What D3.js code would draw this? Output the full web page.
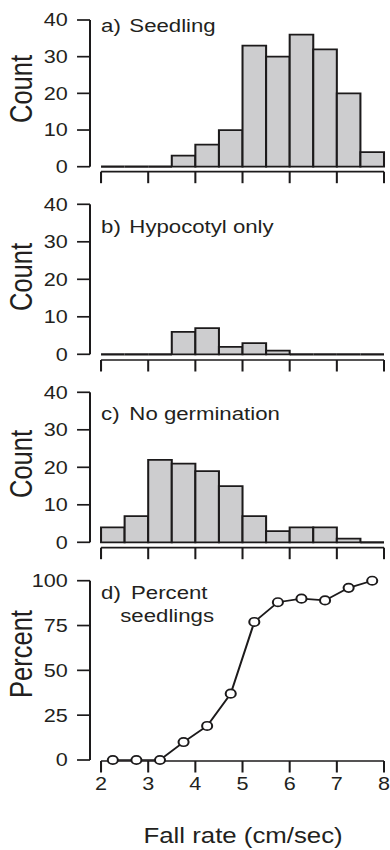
<!DOCTYPE html>
<html>
<head>
<meta charset="utf-8">
<script src="https://cdn.jsdelivr.net/npm/d3@7"></script>
<style>
    html, body { margin: 0; padding: 0; background: #fff; }
    svg { display: block; }
    text { font-family: "Liberation Sans", Arial, Helvetica, sans-serif; fill: #231f20; }
</style>
</head>
<body>
<div id="chart"></div>
<script>
// ——— Data ———
const binEdges = [2, 2.5, 3, 3.5, 4, 4.5, 5, 5.5, 6, 6.5, 7, 7.5, 8];
const binMids = [2.25, 2.75, 3.25, 3.75, 4.25, 4.75, 5.25, 5.75, 6.25, 6.75, 7.25, 7.75];
const seedling = [0, 0, 0, 3, 6, 10, 33, 30, 36, 32, 20, 4];
const hypocotyl = [0, 0, 0, 6, 7, 2, 3, 1, 0, 0, 0, 0];
const noGermination = [4, 7, 22, 21, 19, 15, 7, 3, 4, 4, 1, 0];
const percentSeedlings = [0, 0, 0, 10, 19, 37, 77, 88, 90, 89, 96, 100];
const xTicks = [2, 3, 4, 5, 6, 7, 8];
const countTicks = [0, 10, 20, 30, 40];
const percentTicks = [0, 25, 50, 75, 100];

(() => {
    // the figure is drawn in a narrower space and stretched to 390 wide
    const VW = 325, W = 390, H = 850;
    const axisX = 75;
    const INK = '#1c1a1b';
    const SW = 1.7;

    const svg = d3.select('#chart').append('svg')
        .attr('width', W).attr('height', H)
        .attr('viewBox', `0 0 ${VW} ${H}`)
        .attr('preserveAspectRatio', 'none');

    const x = d3.scaleLinear().domain([2, 8]).range([84.2, 320]);

    const panels = [
        { data: seedling, y0: 166.7, y1: 20, xAxisY: 171.7, label: ['a)', 'Seedling'], lab: 32.3, title: 'Count', titleY: 89 },
        { data: hypocotyl, y0: 354.3, y1: 204.3, xAxisY: 360, label: ['b)', 'Hypocotyl only'], lab: 233.3, title: 'Count', titleY: 277 },
        { data: noGermination, y0: 542.3, y1: 392.3, xAxisY: 547.7, label: ['c)', 'No germination'], lab: 420, title: 'Count', titleY: 464 }
    ];

    function yAxis(g, y, ticks) {
        g.append('line')
            .attr('x1', axisX).attr('x2', axisX)
            .attr('y1', y(ticks[0])).attr('y2', y(ticks[ticks.length - 1]))
            .attr('stroke', INK).attr('stroke-width', SW);
        ticks.forEach(t => {
            g.append('line')
                .attr('x1', axisX - 10.8).attr('x2', axisX)
                .attr('y1', y(t)).attr('y2', y(t))
                .attr('stroke', INK).attr('stroke-width', SW);
            g.append('text')
                .attr('x', 56.5).attr('y', y(t))
                .attr('dy', '0.36em')
                .attr('text-anchor', 'end')
                .attr('font-size', 18)
                .text(t);
        });
    }

    function xAxis(g, yPos, withLabels) {
        g.append('line')
            .attr('x1', x(2)).attr('x2', x(8))
            .attr('y1', yPos).attr('y2', yPos)
            .attr('stroke', INK).attr('stroke-width', SW);
        xTicks.forEach(t => {
            g.append('line')
                .attr('x1', x(t)).attr('x2', x(t))
                .attr('y1', yPos).attr('y2', yPos + 11.5)
                .attr('stroke', INK).attr('stroke-width', SW);
            if (withLabels) {
                g.append('text')
                    .attr('x', x(t)).attr('y', 790)
                    .attr('text-anchor', 'middle')
                    .attr('font-size', 18)
                    .text(t);
            }
        });
    }

    function yTitle(g, text, cy) {
        g.append('text')
            .attr('transform', `translate(26.6,${cy}) rotate(-90)`)
            .attr('text-anchor', 'middle')
            .attr('font-size', 25.5)
            .text(text);
    }

    // ——— Histogram panels ———
    panels.forEach(p => {
        const g = svg.append('g');
        const y = d3.scaleLinear().domain([0, 40]).range([p.y0, p.y1]);

        g.selectAll('path.bar')
            .data(p.data)
            .join('path')
            .attr('class', 'bar')
            .attr('d', (d, i) => {
                const a = x(binEdges[i]), b = x(binEdges[i + 1]);
                return `M${a},${y(0)}V${y(d)}H${b}V${y(0)}Z`;
            })
            .attr('fill', d => d > 0 ? '#cdcdcf' : 'none')
            .attr('stroke', INK)
            .attr('stroke-width', d => d > 0 ? SW : 2.2);

        yAxis(g, y, countTicks);
        xAxis(g, p.xAxisY, false);
        yTitle(g, p.title, p.titleY);

        g.append('text').attr('x', 84.2).attr('y', p.lab).attr('font-size', 18.5).text(p.label[0]);
        g.append('text').attr('x', 107.8).attr('y', p.lab).attr('font-size', 18.5).text(p.label[1]);
    });

    // ——— Percent seedlings panel ———
    const gd = svg.append('g');
    const yp = d3.scaleLinear().domain([0, 100]).range([760, 580.7]);

    yAxis(gd, yp, percentTicks);
    xAxis(gd, 761, true);
    yTitle(gd, 'Percent', 654);

    const line = d3.line()
        .x((d, i) => x(binMids[i]))
        .y(d => yp(d));

    gd.append('path')
        .datum(percentSeedlings)
        .attr('d', line)
        .attr('fill', 'none')
        .attr('stroke', INK)
        .attr('stroke-width', SW);

    gd.selectAll('circle')
        .data(percentSeedlings)
        .join('circle')
        .attr('cx', (d, i) => x(binMids[i]))
        .attr('cy', d => yp(d))
        .attr('r', 4.2)
        .attr('fill', '#fff')
        .attr('stroke', INK)
        .attr('stroke-width', SW);

    gd.append('text').attr('x', 84.2).attr('y', 599.3).attr('font-size', 18.5).text('d)');
    gd.append('text').attr('x', 109.2).attr('y', 599.3).attr('font-size', 18.5).text('Percent');
    gd.append('text').attr('x', 139.3).attr('y', 621.7).attr('text-anchor', 'middle').attr('font-size', 18.5).text('seedlings');

    // ——— X axis title ———
    svg.append('text')
        .attr('x', x(5) + 0.5).attr('y', 843)
        .attr('text-anchor', 'middle')
        .attr('font-size', 21.5)
        .text('Fall rate (cm/sec)');
})();
</script>
</body>
</html>
